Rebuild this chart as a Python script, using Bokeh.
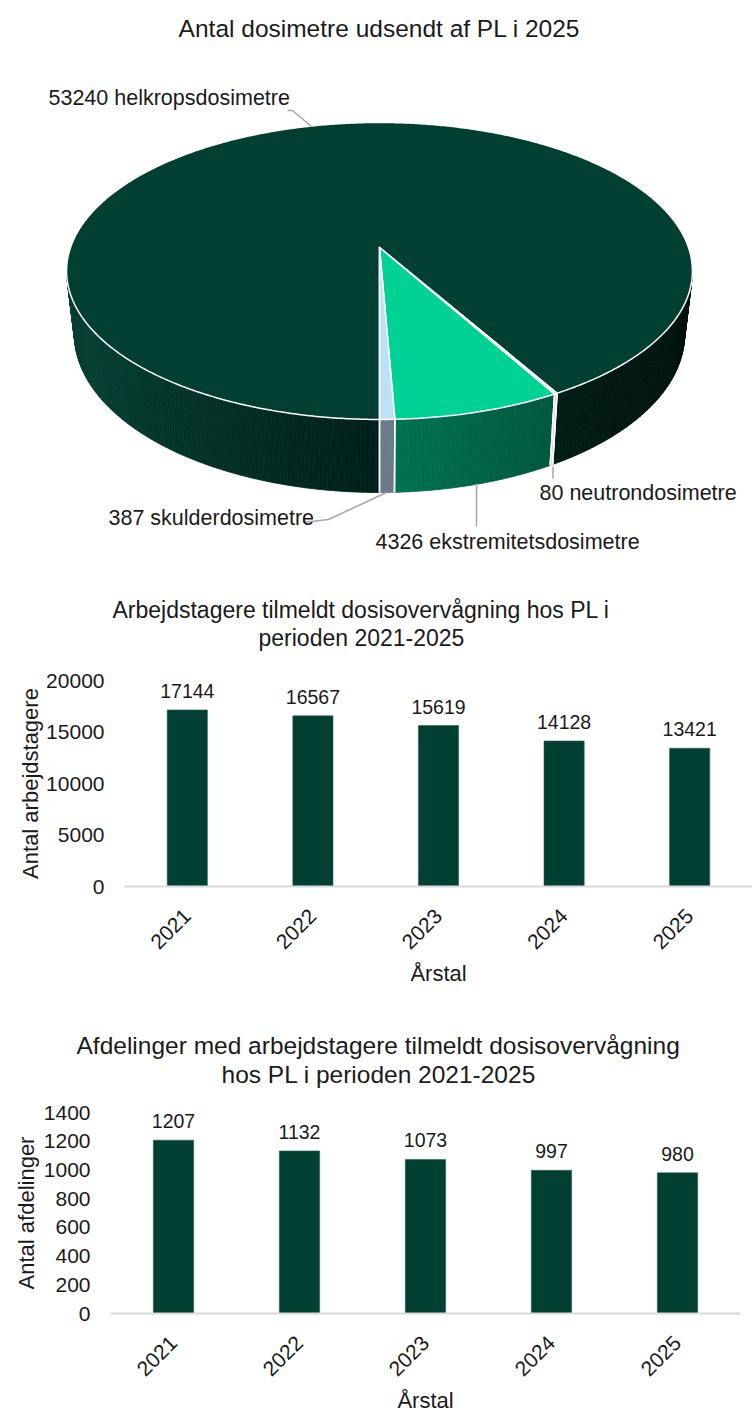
import math
import numpy as np
from bokeh.plotting import figure
from bokeh.models import Range1d, ColumnDataSource, FixedTicker, Label, Title
from bokeh.layouts import column
from bokeh.embed import file_html
from bokeh.resources import INLINE
from bokeh.core.properties import value

# ---------------- data ----------------
pie_title = "Antal dosimetre udsendt af PL i 2025"
pie_names = ["helkropsdosimetre", "neutrondosimetre", "ekstremitetsdosimetre", "skulderdosimetre"]
pie_values = [53240, 80, 4326, 387]

years = ["2021", "2022", "2023", "2024", "2025"]
workers = [17144, 16567, 15619, 14128, 13421]
departments = [1207, 1132, 1073, 997, 980]
workers_ticks = [0, 5000, 10000, 15000, 20000]
departments_ticks = [0, 200, 400, 600, 800, 1000, 1200, 1400]

# ---------------- style ----------------
FONT = "Liberation Sans"
TXT = "#1A1A1A"
GREEN = "#003F31"
TOP_COLORS = ["#003F31", "#D9D9D9", "#00D296", "#BEE0F8"]

W = 752
PIE_H = 565

# pie geometry (page pixel coordinates; y downwards)
CX, CY = 379.0, 247.0
RB, RA, PB = 309.0, 144.8, 0.158
THICK, KBOT = 61.5, 0.975
START = 180.0


def top_pt(th):
    t = np.radians(th)
    X, Z = np.sin(t), np.cos(t)
    w = 1 + PB * Z
    return CX + RB * X / w, CY - RA * Z / w


def bot_pt(th):
    t = np.radians(th)
    X, Z = np.sin(t), np.cos(t)
    w = 1 + PB * Z
    return CX + KBOT * RB * X / w, CY - RA * Z / w + THICK / w


def hex2rgb(h):
    h = h.lstrip("#")
    return [int(h[i:i + 2], 16) for i in (0, 2, 4)]


def lerp_col(c0, c1, f):
    f = min(1.0, max(0.0, f))
    a, b = hex2rgb(c0), hex2rgb(c1)
    return "#%02x%02x%02x" % tuple(int(round(a[i] + (b[i] - a[i]) * f)) for i in range(3))


def side_color(idx, x):
    if idx == 0:
        if x <= CX + 1:
            return lerp_col("#053f32", "#001f19", (x - 66) / (CX - 66))
        return lerp_col("#001c15", "#00120d", (x - 554) / (692 - 554))
    if idx == 1:
        return "#CFCFCF"
    if idx == 2:
        return lerp_col("#007252", "#00573e", (x - 394) / (554 - 394))
    return "#6B7B8B"


total = float(sum(pie_values))
bounds = []
a = START
for v in pie_values:
    b = a + 360.0 * v / total
    bounds.append((a, b))
    a = b

TH_R = math.degrees(math.acos(-PB))
TH_L = 360.0 - TH_R

pie = figure(width=W, height=PIE_H, x_range=Range1d(0, W), y_range=Range1d(PIE_H, 0),
             output_backend="svg", toolbar_location=None, min_border=0, frame_align=False)
pie.axis.visible = False
pie.grid.visible = False
pie.outline_line_color = None
pie.background_fill_color = None

# side faces
sx, sy, sc = [], [], []
for i, (a0, a1) in enumerate(bounds):
    for off in (0.0, 360.0):
        lo, hi = max(a0, TH_R + off), min(a1, TH_L + off)
        if hi <= lo:
            continue
        n = max(2, int(math.ceil((hi - lo) / 0.6)) + 1)
        ts = np.linspace(lo, hi, n)
        for t0, t1 in zip(ts[:-1], ts[1:]):
            x0, y0 = top_pt(t0)
            x1, y1 = top_pt(t1)
            bx1, by1 = bot_pt(t1)
            bx0, by0 = bot_pt(t0)
            sx.append([x0, x1, bx1, bx0])
            sy.append([y0, y1, by1, by0])
            sc.append(side_color(i, (x0 + x1) / 2))
pie.patches(sx, sy, fill_color=sc, line_color=sc, line_width=0.8)

# top faces
tx, ty = [], []
for i, (a0, a1) in enumerate(bounds):
    n = max(2, int(math.ceil((a1 - a0) / 0.5)) + 1)
    ts = np.linspace(a0, a1, n)
    px, py = top_pt(ts)
    tx.append([CX] + list(px))
    ty.append([CY] + list(py))
pie.patches(tx, ty, fill_color=TOP_COLORS, line_color="white", line_width=1.5, line_join="round")

# white seams on the side at slice boundaries
for (a0, a1) in bounds:
    for t in (a0, a1):
        tm = t % 360.0
        if TH_R < tm < TH_L:
            x0, y0 = top_pt(tm)
            x1, y1 = bot_pt(tm)
            pie.line([x0, x1], [y0, y1], line_color="white", line_width=1.5)

# title
pie.add_layout(Label(x=379, y=28, text=pie_title, text_align="center", text_baseline="middle",
                     text_font=FONT, text_font_size="24.5px", text_color=TXT))

# labels + leader lines
LEAD = "#A6A6A6"
lab_pos = [(48, 97), (539, 492), (375, 541), (108, 517)]
leaders = [([287, 292, 311], [110, 110, 126]),
           ([552.5, 552.5], [466, 478]),
           ([476, 476], [483, 526]),
           ([386, 328, 302], [492, 519, 522])]
for (name, v, (lx, ly), (lxs, lys)) in zip(pie_names, pie_values, lab_pos, leaders):
    pie.line(lxs, lys, line_color=LEAD, line_width=1.5)
    pie.add_layout(Label(x=lx, y=ly, text=f"{v} {name}", text_align="left", text_baseline="middle",
                         text_font=FONT, text_font_size="21.5px", text_color=TXT))


def bar_chart(title1, off1, title2, off2, tsize, spacer, vals, ticks, ymax, ylabel, height,
              b_left, b_right, b_top, b_bottom, ylab_standoff):
    xs = list(range(1, len(years) + 1))
    p = figure(width=W, height=height, x_range=Range1d(0.5, len(years) + 0.5), y_range=Range1d(0, ymax),
               output_backend="svg", toolbar_location=None, frame_align=False,
               min_border_left=b_left, min_border_right=b_right,
               min_border_top=b_top, min_border_bottom=b_bottom)
    src = ColumnDataSource(dict(x=xs, top=vals, lab=[str(v) for v in vals]))
    p.vbar(x="x", top="top", width=0.32, source=src, fill_color=GREEN, line_color="#2f5e53", line_width=0.6)
    p.text(x="x", y="top", text="lab", source=src, text_align="center", text_baseline="middle",
           y_offset=-19, text_font=value(FONT), text_font_size="19.5px", text_color=TXT)
    p.xgrid.visible = False
    p.ygrid.visible = False
    p.outline_line_color = None

    p.xaxis.ticker = FixedTicker(ticks=xs)
    p.xaxis.major_label_overrides = {x: y for x, y in zip(xs, years)}
    p.xaxis.major_label_orientation = math.pi / 4
    p.xaxis.axis_line_color = "#D9D9D9"
    p.xaxis.axis_line_width = 2
    p.xaxis.major_tick_line_color = None
    p.xaxis.minor_tick_line_color = None
    p.xaxis.major_label_standoff = 20
    p.xaxis.axis_label = "Årstal"
    p.xaxis.axis_label_standoff = 3

    p.yaxis.ticker = FixedTicker(ticks=ticks)
    p.yaxis.axis_line_color = None
    p.yaxis.major_tick_line_color = None
    p.yaxis.minor_tick_line_color = None
    p.yaxis.major_tick_out = 0
    p.yaxis.major_label_standoff = 20
    p.yaxis.axis_label = ylabel
    p.yaxis.axis_label_standoff = ylab_standoff

    for ax in (p.xaxis, p.yaxis):
        ax.major_label_text_font = FONT
        ax.major_label_text_font_size = "21px"
        ax.major_label_text_color = TXT
        ax.axis_label_text_font = FONT
        ax.axis_label_text_font_size = "22px"
        ax.axis_label_text_font_style = "normal"
        ax.axis_label_text_color = TXT

    # titles stacked upward from the frame: blank spacer, second line, first line
    p.add_layout(Title(text=" ", text_font_size="1px", standoff=spacer), "above")
    for text, off in ((title2, off2), (title1, off1)):
        p.add_layout(Title(text=text, align="left", offset=off, vertical_align="middle", standoff=0,
                           text_font=FONT, text_font_size=tsize, text_font_style="normal",
                           text_color=TXT), "above")
    return p


# bar chart 1: frame spans page x 124..752, y 680..886 (figure top at 565)
bar1 = bar_chart("Arbejdstagere tilmeldt dosisovervågning hos PL i", -12,
                 "perioden 2021-2025", 134, "23px", 26,
                 workers, workers_ticks, 20000, "Antal arbejdstagere",
                 435, 124, 0, 115, 114, 0)
# bar chart 2: frame spans page x 110..740, y 1112..1318 (figure top at 1000)
bar2 = bar_chart("Afdelinger med arbejdstagere tilmeldt dosisovervågning", -34,
                 "hos PL i perioden 2021-2025", 111, "24.5px", 21,
                 departments, departments_ticks, 1400, "Antal afdelinger",
                 416, 110, 12, 112, 98, 2)

layout = column(pie, bar1, bar2, spacing=0)
open("out.html", "w").write(file_html(layout, INLINE))
